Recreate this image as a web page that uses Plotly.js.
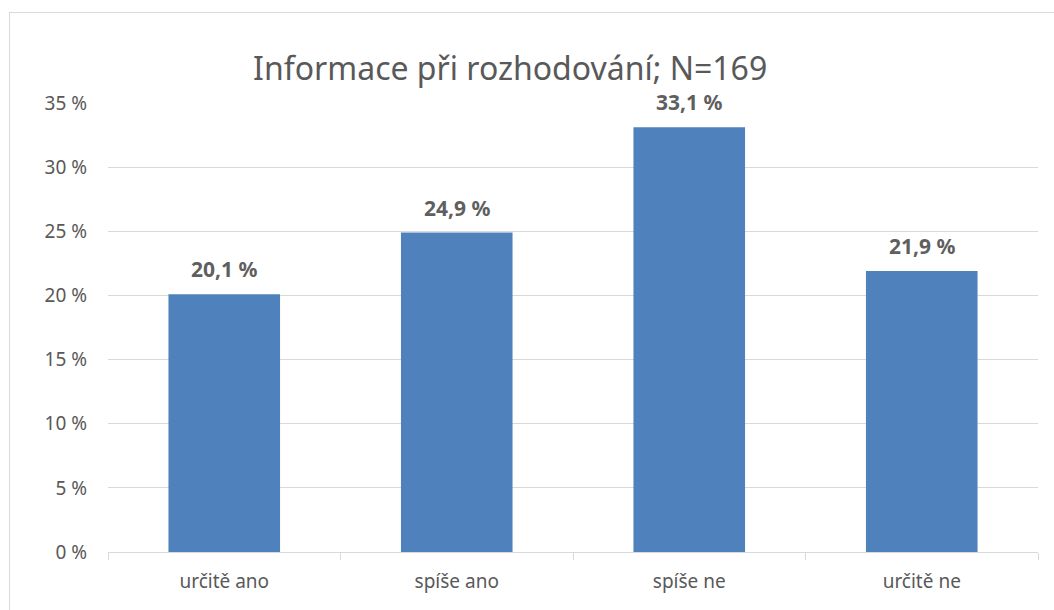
<!DOCTYPE html>
<html><head><meta charset="utf-8">
<script src="https://cdn.plot.ly/plotly-3.0.1.min.js"></script>
<style>
body{margin:0;padding:0;background:#fff;}
#wrap{position:relative;width:1054px;height:610px;overflow:hidden;}
#chart{width:1054px;height:610px;}
#frame{position:absolute;left:9px;top:12px;width:1060px;height:620px;border:1px solid #d9d9d9;box-sizing:border-box;pointer-events:none;}
</style></head>
<body>
<div id="wrap"><div id="chart"></div><div id="frame"></div></div>
<script>
const categories = ['určitě ano', 'spíše ano', 'spíše ne', 'určitě ne'];
const values = [20.1, 24.9, 33.1, 21.9];
const titleText = 'Informace při rozhodování; N=169';

const fontFam = 'Noto Sans, Open Sans, sans-serif';
const grey = '#595959';
const labels = values.map(v => v.toFixed(1).replace('.', ',') + ' %');

const trace = {
  type: 'bar', x: categories, y: values,
  marker: {color: '#4f81bd'}, hoverinfo: 'none'
};
const annotations = categories.map((c, i) => ({
  x: c, y: values[i], xref: 'x', yref: 'y', text: '<b>' + labels[i] + '</b>',
  showarrow: false, yanchor: 'bottom', yshift: 9,
  font: {family: fontFam, size: 21, color: '#5f5f5f'}
}));
const layout = {
  width: 1054, height: 610,
  margin: {l: 108, r: 16, t: 103, b: 58},
  paper_bgcolor: '#fff', plot_bgcolor: '#fff',
  title: {text: titleText, x: 0.484, xanchor: 'center', xref: 'container', y: 0.888, yanchor: 'middle', yref: 'container',
          font: {family: fontFam, size: 32, color: grey}},
  bargap: 0.52,
  showlegend: false,
  xaxis: {type: 'category', showgrid: false, showline: true, linecolor: '#d9d9d9', linewidth: 1,
          ticks: 'outside', tickson: 'boundaries', ticklen: 7, tickcolor: '#d9d9d9',
          ticklabelstandoff: 12,
          tickfont: {family: fontFam, size: 19, color: grey}, fixedrange: true},
  yaxis: {range: [0, 35], dtick: 5, ticksuffix: ' %', showgrid: true, gridcolor: '#d9d9d9', gridwidth: 1,
          zeroline: false, showline: false, ticks: '', ticklabelstandoff: 20,
          tickfont: {family: fontFam, size: 19, color: grey}, fixedrange: true},
  annotations: annotations
};
Plotly.newPlot('chart', [trace], layout, {displayModeBar: false, staticPlot: true});
</script>
</body></html>
